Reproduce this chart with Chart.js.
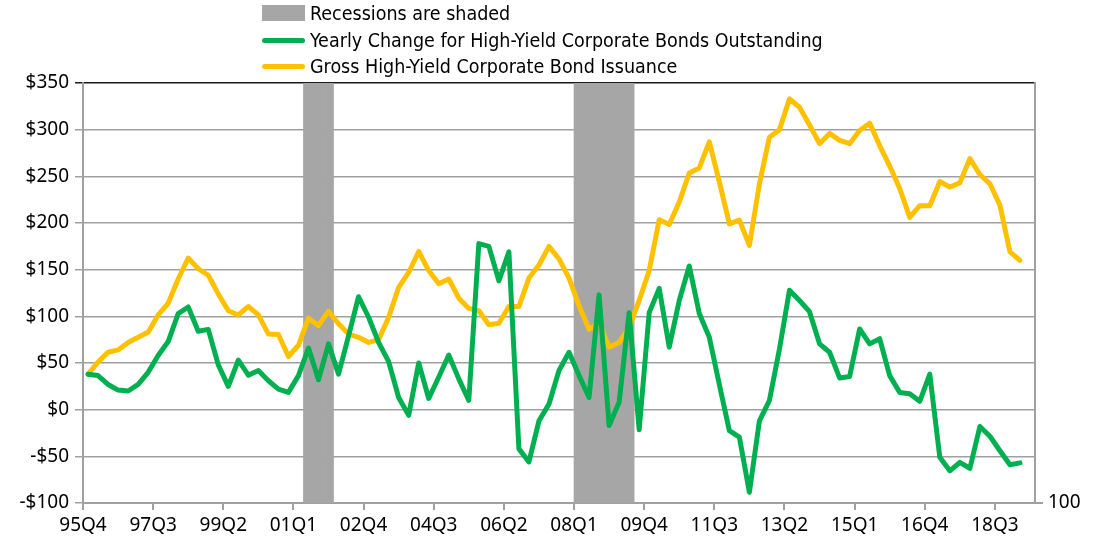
<!DOCTYPE html>
<html lang="en">

<head>
    <meta charset="UTF-8">
    <title>High-Yield Corporate Bonds</title>
    <script src="https://cdn.jsdelivr.net/npm/chart.js"></script>
    <style>
        body {
            margin: 0;
            background: #fff;
        }

        #wrap {
            position: relative;
            width: 1100px;
            height: 546px;
        }

        .legend-item {
            position: absolute;
            left: 262px;
            height: 26px;
            display: flex;
            align-items: center;
            font-family: "Liberation Sans Narrow", "DejaVu Sans Condensed", sans-serif;
            font-stretch: condensed;
            font-size: 19.5px;
            color: #000;
            white-space: nowrap;
        }

        .legend-item .sw {
            width: 43px;
            margin-right: 5px;
        }
    </style>
</head>

<body>
    <div id="wrap">
        <canvas id="bondChart" width="1100" height="546"></canvas>
        <div class="legend-item" style="top:0px"><span class="sw" style="height:16px;background:#a6a6a6"></span>Recessions are shaded</div>
        <div class="legend-item" style="top:27px"><span class="sw" style="height:5px;border-radius:3px;background:#00b050"></span>Yearly Change for High-Yield Corporate Bonds Outstanding</div>
        <div class="legend-item" style="top:53px"><span class="sw" style="height:5px;border-radius:3px;background:#ffc000"></span>Gross High-Yield Corporate Bond Issuance</div>
    </div>

    <script>
        // quarters 95Q4 .. 19Q2
        const quarters = [];
        for (let k = 0; k < 95; k++) {
            const q = 4 + k;
            const yr = 1995 + Math.floor((q - 1) / 4);
            quarters.push(String(yr).slice(2) + 'Q' + (((q - 1) % 4) + 1));
        }

        const tickLabels = ['95Q4', '97Q3', '99Q2', '01Q1', '02Q4', '04Q3', '06Q2', '08Q1', '09Q4', '11Q3', '13Q2', '15Q1', '16Q4', '18Q3'];

        const recessionQuarters = ['01Q2', '01Q3', '01Q4', '08Q1', '08Q2', '08Q3', '08Q4', '09Q1', '09Q2'];

        // $ billions
        const yearlyChange = [38, 36.5, 27, 21, 20, 27, 40, 58, 73, 103, 110, 84, 86, 48, 25, 53, 37, 42, 31, 22,
            18.5, 36.5, 66, 32, 70.5, 38, 79, 121, 99, 72, 51.5, 13, -6, 50, 12, 35, 58.5, 33, 10, 178,
            175, 138, 169, -42, -56, -12, 6, 42, 61.5, 36.5, 13, 123, -17, 8, 104, -21.5, 104, 130, 67, 117,
            154, 103, 77.5, 27, -22.5, -29.5, -88.5, -12, 10, 65, 128, 117, 105, 70.5, 61.5, 34, 35.5, 86.5, 70.5, 76,
            36.5, 18.5, 17, 9, 38, -51, -65.5, -56.5, -63, -18, -28.5, -44, -59, -57];

        const grossIssuance = [38, 51, 61.5, 64, 72, 77.5, 83, 101.5, 114, 140, 162.5, 151, 144, 124, 106, 101.5, 110.5, 101.5, 81, 80.5,
            57, 69, 98, 90, 105.5, 92, 81, 77.5, 72, 75, 99, 131, 147, 169.5, 149, 135, 140, 119.5, 108.5, 106,
            91, 92.5, 110.5, 110.5, 141, 155, 175, 161.5, 141, 111.5, 86, 93, 67, 72, 88, 117, 149, 203.5, 198.5, 222.5,
            253.5, 259, 287, 244, 199, 203, 176, 242, 292, 300, 333, 324, 305, 285, 296, 288.5, 285, 299, 307, 283,
            261, 237, 206, 218.5, 218.5, 244.5, 238.5, 243, 269, 252, 242, 219, 169, 160];

        const recession = quarters.map(q => recessionQuarters.includes(q) ? 100 : null);

        const tickFont = { family: 'Noto Sans', size: 19 };
        const gridGray = '#a0a0a0';

        new Chart(document.getElementById('bondChart'), {
            type: 'line',
            data: {
                labels: quarters,
                datasets: [{
                    label: 'Yearly Change for High-Yield Corporate Bonds Outstanding',
                    data: yearlyChange,
                    borderColor: '#00b050',
                    borderWidth: 5,
                    pointRadius: 0,
                    borderJoinStyle: 'round',
                    borderCapStyle: 'round',
                    yAxisID: 'y',
                    order: 1
                }, {
                    label: 'Gross High-Yield Corporate Bond Issuance',
                    data: grossIssuance,
                    borderColor: '#ffc000',
                    borderWidth: 5,
                    pointRadius: 0,
                    borderJoinStyle: 'round',
                    borderCapStyle: 'round',
                    yAxisID: 'y',
                    order: 2
                }, {
                    type: 'bar',
                    label: 'Recessions are shaded',
                    data: recession,
                    backgroundColor: '#a6a6a6',
                    barPercentage: 1,
                    categoryPercentage: 1,
                    yAxisID: 'y2',
                    order: 10
                }]
            },
            options: {
                responsive: false,
                animation: false,
                layout: { padding: { top: 83 } },
                plugins: {
                    legend: { display: false },
                    tooltip: { enabled: false }
                },
                scales: {
                    x: {
                        offset: true,
                        grid: { offset: false, drawOnChartArea: false, drawTicks: true, tickLength: 7, color: gridGray, lineWidth: 2 },
                        border: { display: true, color: gridGray, width: 2 },
                        ticks: {
                            autoSkip: false, maxRotation: 0, font: tickFont, color: '#000', padding: 4,
                            callback: function (value) { return quarters[Math.round(value + 0.5)]; }
                        },
                        afterBuildTicks: function (scale) {
                            scale.ticks = tickLabels.map(t => ({ value: quarters.indexOf(t) - 0.5 }));
                        },
                        afterFit: function (scale) { scale.height = 43; }
                    },
                    y: {
                        min: -100,
                        max: 350,
                        ticks: {
                            stepSize: 50, font: tickFont, color: '#000', padding: 6,
                            callback: v => (v < 0 ? '-$' : '$') + Math.abs(v)
                        },
                        grid: {
                            tickLength: 8,
                            lineWidth: 1.5,
                            color: ctx => ctx.tick && ctx.tick.value === 350 ? '#1a1a1a' : gridGray
                        },
                        border: { display: true, color: gridGray, width: 2 },
                        afterFit: function (scale) { scale.width = 83; }
                    },
                    y2: {
                        position: 'right',
                        reverse: true,
                        min: 0,
                        max: 100,
                        grid: { drawOnChartArea: false, tickLength: 8, color: gridGray, lineWidth: 2 },
                        border: { display: true, color: gridGray, width: 2 },
                        ticks: { font: tickFont, color: '#000', padding: 5 },
                        afterBuildTicks: function (scale) { scale.ticks = [{ value: 100 }]; },
                        afterFit: function (scale) { scale.width = 65; }
                    }
                }
            }
        });
    </script>
</body>

</html>
